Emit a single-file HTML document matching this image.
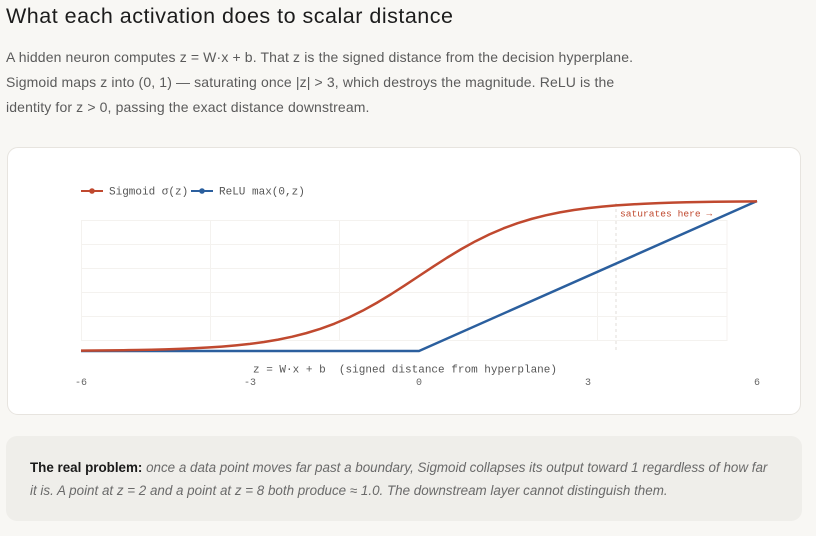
<!DOCTYPE html>
<html><head><meta charset="utf-8">
<style>
html,body{margin:0;padding:0;}
body{width:816px;height:536px;background:#f8f7f4;position:relative;overflow:hidden;font-family:"Liberation Sans",sans-serif;}
.title{position:absolute;left:6px;top:2px;font-size:21.5px;letter-spacing:0.5px;color:#1c1c1c;white-space:nowrap;line-height:28px;}
.p{position:absolute;left:6px;top:45px;font-size:14px;letter-spacing:0.13px;color:#5b5b5b;line-height:25px;white-space:nowrap;}
.card{position:absolute;left:7px;top:147px;width:792px;height:266px;background:#fff;border:1px solid #e7e4df;border-radius:11px;}
.note{position:absolute;left:6px;top:436px;width:796px;height:85px;background:#efeeea;border-radius:11px;}
.nt{position:absolute;left:30px;top:456px;font-size:13.4px;line-height:23px;color:#6a6a6a;white-space:nowrap;font-style:italic;}
.nt b{font-style:normal;color:#1a1a1a;font-weight:bold;}
svg{position:absolute;left:0;top:0;}
</style></head><body>
<div class="title">What each activation does to scalar distance</div>
<div class="p">A hidden neuron computes z = W·x + b. That z is the signed distance from the decision hyperplane.<br>Sigmoid maps z into (0, 1) — saturating once |z| &gt; 3, which destroys the magnitude. ReLU is the<br>identity for z &gt; 0, passing the exact distance downstream.</div>
<div class="card"></div>
<div class="note"></div>
<div class="nt"><b>The real problem:</b> once a data point moves far past a boundary, Sigmoid collapses its output toward 1 regardless of how far<br>it is. A point at z = 2 and a point at z = 8 both produce ≈ 1.0. The downstream layer cannot distinguish them.</div>
<svg width="816" height="536" viewBox="0 0 816 536">
<g stroke="#f4f2ef" stroke-width="1" fill="none">
<line x1="81" y1="220.5" x2="727" y2="220.5"/>
<line x1="81" y1="244.5" x2="727" y2="244.5"/>
<line x1="81" y1="268.5" x2="727" y2="268.5"/>
<line x1="81" y1="292.5" x2="727" y2="292.5"/>
<line x1="81" y1="316.5" x2="727" y2="316.5"/>
<line x1="81" y1="340.5" x2="727" y2="340.5"/>
<line x1="81.5" y1="220" x2="81.5" y2="341"/>
<line x1="210.5" y1="220" x2="210.5" y2="341"/>
<line x1="339.5" y1="220" x2="339.5" y2="341"/>
<line x1="468" y1="220" x2="468" y2="341"/>
<line x1="597.5" y1="220" x2="597.5" y2="341"/>
<line x1="727" y1="220" x2="727" y2="341"/>
</g>
<line x1="616" y1="203" x2="616" y2="351" stroke="#e0deda" stroke-width="1" stroke-dasharray="3,3"/>
<polyline fill="none" stroke="#2b5f9e" stroke-width="2.5" stroke-linejoin="round" points="81,351 419,351 757,201"/>
<polyline fill="none" stroke="#c0492f" stroke-width="2.5" stroke-linejoin="round" points="81,350.63 95.08,350.52 109.17,350.39 123.25,350.22 137.33,350 151.42,349.71 165.5,349.35 179.58,348.89 193.67,348.3 207.75,347.55 221.83,346.6 235.92,345.4 250,343.89 264.08,341.99 278.17,339.62 292.25,336.7 306.33,333.12 320.42,328.79 334.5,323.64 348.58,317.6 362.67,310.66 376.75,302.88 390.83,294.37 404.92,285.33 419,276 433.08,266.67 447.17,257.63 461.25,249.12 475.33,241.34 489.42,234.4 503.5,228.36 517.58,223.21 531.67,218.88 545.75,215.3 559.83,212.38 573.92,210.01 588,208.11 602.08,206.6 616.17,205.4 630.25,204.45 644.33,203.7 658.42,203.11 672.5,202.65 686.58,202.29 700.67,202 714.75,201.78 728.83,201.61 742.92,201.48 757,201.37"/>
<text x="620" y="216.5" font-family="Liberation Mono, monospace" font-size="9.6" fill="#c0492f">saturates here →</text>
<line x1="81" y1="191" x2="103" y2="191" stroke="#c0492f" stroke-width="2"/>
<circle cx="92" cy="191" r="2.8" fill="#c0492f"/>
<text x="109" y="194.5" font-family="Liberation Mono, monospace" font-size="11" fill="#555">Sigmoid σ(z)</text>
<line x1="191" y1="191" x2="213" y2="191" stroke="#2b5f9e" stroke-width="2"/>
<circle cx="202" cy="191" r="2.8" fill="#2b5f9e"/>
<text x="219" y="194.5" font-family="Liberation Mono, monospace" font-size="11" fill="#555">ReLU max(0,z)</text>
<text x="253" y="372.5" font-family="Liberation Mono, monospace" font-size="11" fill="#555" textLength="304" xml:space="preserve">z = W·x + b  (signed distance from hyperplane)</text>
<g font-family="Liberation Mono, monospace" font-size="10" fill="#666" text-anchor="middle">
<text x="81" y="385">-6</text>
<text x="250" y="385">-3</text>
<text x="419" y="385">0</text>
<text x="588" y="385">3</text>
<text x="757" y="385">6</text>
</g>
</svg>
</body></html>
